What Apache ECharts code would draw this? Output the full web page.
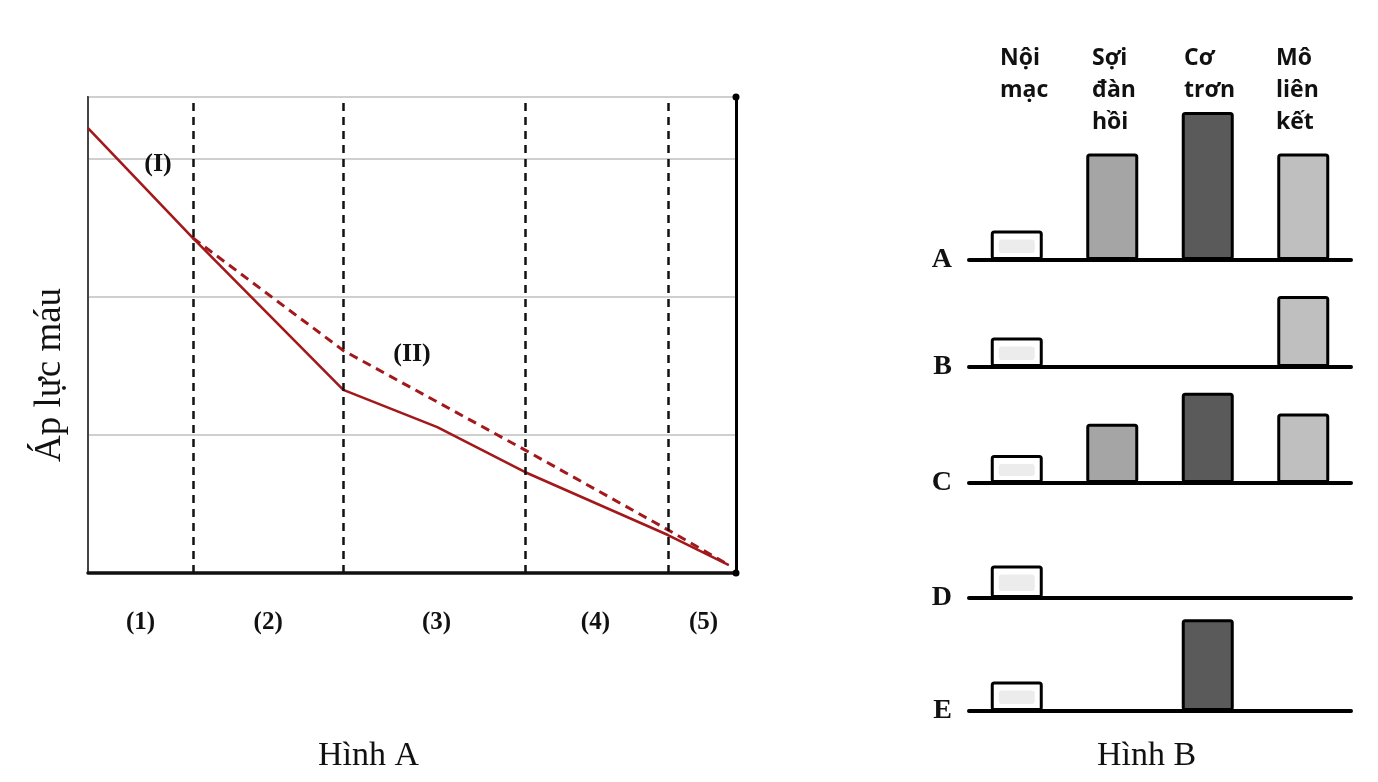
<!DOCTYPE html>
<html><head><meta charset="utf-8">
<script src="https://cdn.jsdelivr.net/npm/echarts@6/dist/echarts.min.js"></script>
<style>html,body{margin:0;padding:0;background:#fff}#c{width:1378px;height:782px}</style>
</head><body><div id="c"></div>
<script>
// ---------- Hình A data ----------
const regionBounds = [16.2, 39.4, 67.4, 89.5];
const regionCenters = [8.1, 27.8, 53.8, 78.3, 95.0];
const regionLabels = ['(1)', '(2)', '(3)', '(4)', '(5)'];
const curveI_x = [0, 16.2, 39.4, 53.9, 67.4, 89.5, 98.9];
const curveI_y = [129, 97.1, 53.1, 42.3, 29.3, 11.0, 2.3];
const curveII_x = [16.2, 39.4, 67.4, 89.5, 98.9];
const curveII_y = [97.1, 64.5, 35.7, 12.5, 2.3];
const yTitle = 'Áp lực máu';

// ---------- Hình B data ----------
const layers = ['Nội\nmạc', 'Sợi\nđàn\nhồi', 'Cơ\ntrơn', 'Mô\nliên\nkết'];
const rowNames = ['A', 'B', 'C', 'D', 'E'];
const rowA = [2.0, 7.2, 10.0, 7.2];
const rowB = [2.0, null, null, 4.8];
const rowC = [1.9, 4.0, 6.1, 4.7];
const rowD = [2.2, null, null, null];
const rowE = [2.0, null, 6.2, null];
const rows = [rowA, rowB, rowC, rowD, rowE];
const layerColors = ['#ffffff', '#a5a5a5', '#5a5a5a', '#bfbfbf'];

// ---------- layout ----------
const rowBaselines = [260, 367, 483, 598, 711];
const rowYMax = 11, rowPxPerUnit = 14.8;
const serif = 'Liberation Serif';
const red = '#a3191b';

const grids = [{left: 88, top: 97, width: 648, height: 476, show: true, borderColor: '#555', borderWidth: 2}];
const xAxes = [{
  gridIndex: 0, type: 'value', min: 0, max: 100,
  axisLine: {show: true, onZero: false, lineStyle: {color: '#111', width: 3.5}},
  axisTick: {show: false}, splitLine: {show: false},
  axisLabel: {
    customValues: regionCenters, margin: 37,
    formatter: v => regionLabels[regionCenters.indexOf(v)],
    fontFamily: serif, fontWeight: 'bold', fontSize: 25, color: '#111'
  }
}];
const yAxes = [{
  gridIndex: 0, type: 'value', min: 0, max: 138, interval: 40,
  name: yTitle, nameLocation: 'middle', nameGap: 19,
  nameTextStyle: {fontFamily: serif, fontSize: 37, color: '#111', padding: [0, 80, 0, 0]},
  axisLine: {show: true, lineStyle: {color: '#444', width: 2}},
  axisTick: {show: false}, axisLabel: {show: false},
  splitLine: {show: true, lineStyle: {color: '#cfcfcf', width: 2}}
}, {
  gridIndex: 0, type: 'value', min: 0, max: 138, position: 'right',
  axisLine: {show: true, symbol: ['circle', 'circle'], symbolSize: [7, 7], lineStyle: {color: '#000', width: 3}},
  axisTick: {show: false}, axisLabel: {show: false}, splitLine: {show: false}
}];

const series = [{
  type: 'line', xAxisIndex: 0, yAxisIndex: 0, z: 3,
  data: curveI_x.map((x, i) => [x, curveI_y[i]]),
  symbol: 'none', lineStyle: {color: red, width: 2.6},
  markLine: {
    silent: true, symbol: ['none', 'none'], label: {show: false},
    lineStyle: {color: '#111', width: 2.5, type: [8, 6]},
    data: regionBounds.map(b => ({xAxis: b}))
  },
  markPoint: {
    symbol: 'circle', symbolSize: 10, itemStyle: {color: 'rgba(0,0,0,0)'},
    label: {show: true, position: 'inside', formatter: '(I)', fontFamily: serif, fontWeight: 'bold', fontSize: 26, color: '#111'},
    data: [{coord: [10.8, 118.5]}]
  }
}, {
  type: 'line', xAxisIndex: 0, yAxisIndex: 0, z: 3,
  data: curveII_x.map((x, i) => [x, curveII_y[i]]),
  symbol: 'none', lineStyle: {color: red, width: 3, type: [9, 6]},
  markPoint: {
    symbol: 'circle', symbolSize: 10, itemStyle: {color: 'rgba(0,0,0,0)'},
    label: {show: true, position: 'inside', formatter: '(II)', fontFamily: serif, fontWeight: 'bold', fontSize: 26, color: '#111'},
    data: [{coord: [50, 63.5]}]
  }
}];

rows.forEach((vals, r) => {
  const gi = grids.length;
  const xi = xAxes.length;
  const yi = yAxes.length;
  const h = rowYMax * rowPxPerUnit;
  grids.push({left: 969, width: 382, top: rowBaselines[r] - h, height: h});
  xAxes.push({
    gridIndex: gi, type: 'category', data: layers,
    axisLine: {show: true, lineStyle: {color: '#000', width: 4}},
    axisTick: {show: false}, axisLabel: {show: false}, splitLine: {show: false}
  });
  yAxes.push({
    gridIndex: gi, type: 'value', min: 0, max: rowYMax,
    axisLine: {show: false}, axisTick: {show: false}, splitLine: {show: false},
    axisLabel: {
      customValues: [0], margin: 17, padding: [0, 0, 10, 0],
      formatter: () => rowNames[r],
      fontFamily: serif, fontWeight: 'bold', fontSize: 28, color: '#111'
    }
  });
  series.push({
    type: 'bar', xAxisIndex: xi, yAxisIndex: yi, barWidth: 52, z: 2,
    data: vals.map(v => (v == null ? '-' : v)),
    itemStyle: {
      color: p => layerColors[p.dataIndex],
      borderColor: '#000', borderWidth: 3, borderRadius: 2
    }
  });
  // light inner patch of the "Nội mạc" bar
  series.push({
    type: 'custom', xAxisIndex: xi, yAxisIndex: yi, z: 4, silent: true,
    data: [[0, vals[0]]],
    renderItem: (params, api) => {
      const base = api.coord([api.value(0), 0]);
      const top = api.coord([api.value(0), api.value(1)]);
      return {
        type: 'rect',
        shape: {x: base[0] - 18, y: top[1] + 9, width: 36, height: base[1] - top[1] - 16, r: 3},
        style: {fill: '#ececec'}
      };
    }
  });
});

// header grid carrying the layer names
const hg = grids.length;
grids.push({left: 954, width: 368, top: 42, height: 10});
xAxes.push({
  gridIndex: hg, type: 'category', data: layers, position: 'top',
  axisLine: {show: false}, axisTick: {show: false}, splitLine: {show: false},
  axisLabel: {
    inside: true, margin: 0, interval: 0, align: 'left', verticalAlign: 'top', lineHeight: 32,
    fontFamily: 'Open Sans', fontWeight: 'bold', fontSize: 23, color: '#111'
  }
});
yAxes.push({gridIndex: hg, type: 'value', show: false, min: 0, max: 1});

const chart = echarts.init(document.getElementById('c'), null, {renderer: 'canvas'});
chart.setOption({
  animation: false,
  backgroundColor: '#ffffff',
  title: [
    {text: 'Hình A', left: 318, top: 739, padding: 0, textStyle: {fontFamily: serif, fontWeight: 'normal', fontSize: 34, color: '#111'}},
    {text: 'Hình B', left: 1097, top: 739, padding: 0, textStyle: {fontFamily: serif, fontWeight: 'normal', fontSize: 34, color: '#111'}}
  ],
  grid: grids, xAxis: xAxes, yAxis: yAxes, series: series
});
</script></body></html>
